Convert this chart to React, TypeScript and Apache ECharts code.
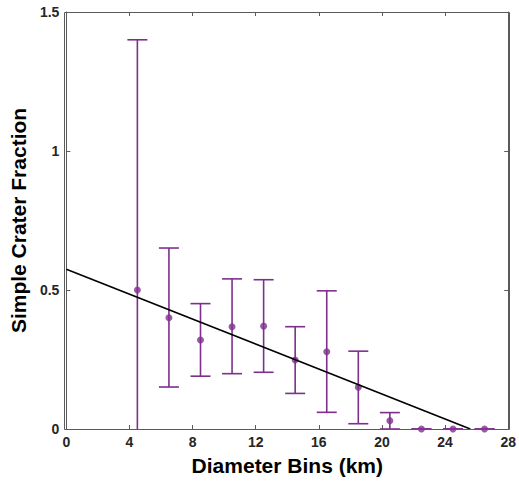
import React, { useEffect, useRef } from "react";
import * as echarts from "echarts";

const binCenters = [4.5, 6.5, 8.5, 10.5, 12.5, 14.5, 16.5, 18.5, 20.5, 22.5, 24.5, 26.5];
const fractions = [0.5, 0.4, 0.32, 0.368, 0.37, 0.248, 0.278, 0.15, 0.03, 0, 0, 0];
const lowerBounds = [-0.4, 0.151, 0.19, 0.199, 0.204, 0.128, 0.06, 0.019, 0, 0, 0, 0];
const upperBounds = [1.4, 0.651, 0.451, 0.54, 0.537, 0.368, 0.497, 0.28, 0.059, 0, 0, 0];
const fitLine = [
  [0, 0.575],
  [25.6, 0],
];
const xTicks = { min: 0, max: 28, interval: 4 };
const yTicks = { min: 0, max: 1.5, interval: 0.5 };

const PURPLE = "#7E2F8E";
const AXIS = "#5a5a5a";
const FONT = "'Liberation Sans', Arial, Helvetica, sans-serif";
const GRID = { left: 64, right: 10, top: 12, bottom: 54 };
const W = 519;
const H = 483;

export default function App() {
  const ref = useRef<HTMLDivElement>(null);
  useEffect(() => {
    if (!ref.current) return;
    const chart = echarts.init(ref.current, null, { renderer: "svg" });
    const errData = binCenters.map((x, i) => [x, lowerBounds[i], upperBounds[i]]);
    const ptData = binCenters.map((x, i) => [x, fractions[i]]);
    const mkLine = () => ({ show: true, onZero: false, lineStyle: { color: AXIS, width: 1 } });
    const mkTick = () => ({ show: true, inside: true, length: 4, lineStyle: { color: AXIS, width: 1 } });
    chart.setOption({
      animation: false,
      backgroundColor: "#fff",
      grid: GRID,
      graphic: [
        {
          type: "rect",
          z: 100,
          silent: true,
          shape: {
            x: GRID.left + 0.5,
            y: GRID.top + 0.5,
            width: W - GRID.left - GRID.right,
            height: H - GRID.top - GRID.bottom,
          },
          style: { fill: "none", stroke: AXIS, lineWidth: 1 },
        },
      ],
      xAxis: [
        {
          type: "value",
          position: "bottom",
          ...xTicks,
          axisLine: mkLine(),
          axisTick: mkTick(),
          splitLine: { show: false },
          axisLabel: { color: "#262626", fontSize: 14, fontWeight: "bold", fontFamily: FONT, margin: 6 },
          name: "Diameter Bins (km)",
          nameLocation: "middle",
          nameGap: 26,
          nameTextStyle: { color: "#000", fontSize: 21, fontWeight: "bold", fontFamily: FONT },
        },
        {
          type: "value",
          position: "top",
          ...xTicks,
          axisLine: mkLine(),
          axisTick: mkTick(),
          splitLine: { show: false },
          axisLabel: { show: false },
        },
      ],
      yAxis: [
        {
          type: "value",
          position: "left",
          ...yTicks,
          axisLine: mkLine(),
          axisTick: mkTick(),
          splitLine: { show: false },
          axisLabel: { color: "#262626", fontSize: 14, fontWeight: "bold", fontFamily: FONT, margin: 7 },
          name: "Simple Crater Fraction",
          nameLocation: "middle",
          nameGap: 25,
          nameTextStyle: { color: "#000", fontSize: 21, fontWeight: "bold", fontFamily: FONT },
        },
        {
          type: "value",
          position: "right",
          ...yTicks,
          axisLine: mkLine(),
          axisTick: mkTick(),
          splitLine: { show: false },
          axisLabel: { show: false },
        },
      ],
      series: [
        {
          type: "custom",
          clip: true,
          data: errData,
          encode: { x: 0, y: [1, 2] },
          renderItem: (params: any, api: any) => {
            const x = api.value(0);
            const lo = api.value(1);
            const hi = api.value(2);
            const pHi = api.coord([x, hi]);
            const pLo = api.coord([x, lo]);
            const hw = 10;
            const style = { stroke: PURPLE, lineWidth: 1.6 };
            return {
              type: "group",
              children: [
                { type: "line", shape: { x1: pHi[0], y1: pHi[1], x2: pLo[0], y2: pLo[1] }, style },
                { type: "line", shape: { x1: pHi[0] - hw, y1: pHi[1], x2: pHi[0] + hw, y2: pHi[1] }, style },
                { type: "line", shape: { x1: pLo[0] - hw, y1: pLo[1], x2: pLo[0] + hw, y2: pLo[1] }, style },
              ],
            };
          },
          z: 2,
        },
        {
          type: "scatter",
          data: ptData,
          symbol: "circle",
          symbolSize: 7,
          itemStyle: { color: PURPLE },
          z: 3,
        },
        {
          type: "line",
          data: fitLine,
          showSymbol: false,
          symbol: "none",
          lineStyle: { color: "#000", width: 1.6 },
          z: 4,
        },
      ],
    });
    return () => chart.dispose();
  }, []);
  return (
    <div
      ref={ref}
      style={{ position: "absolute", left: 0, top: 0, width: W, height: H }}
    />
  );
}
